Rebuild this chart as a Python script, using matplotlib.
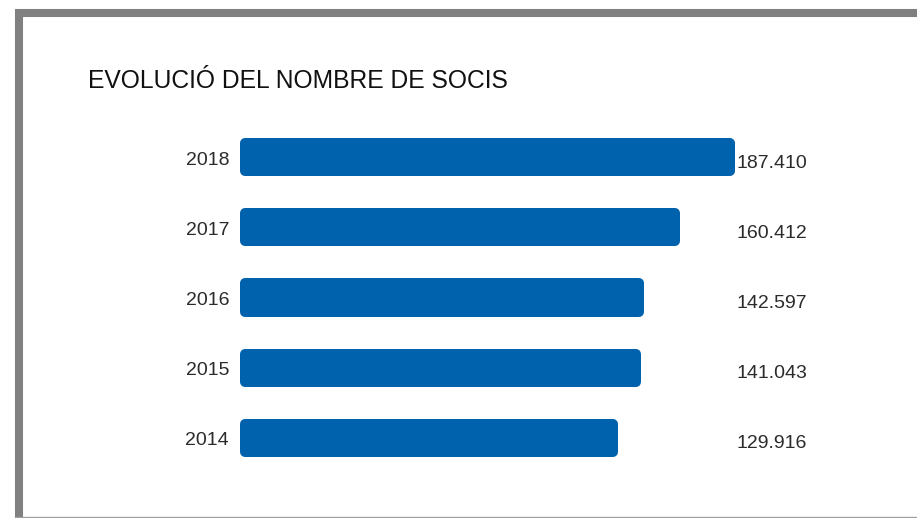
import matplotlib
matplotlib.use("Agg")
import matplotlib.pyplot as plt
from matplotlib.lines import Line2D
import numpy as np

years = ["2014", "2015", "2016", "2017", "2018"]
socis = [129916, 141043, 142597, 160412, 187410]
labels = ["129.916", "141.043", "142.597", "160.412", "187.410"]

bar_color = "#0062ad"
text_color = "#2b2b2b"
border_color = "#808080"

plt.rcParams['font.family'] = ['Liberation Sans', 'DejaVu Sans']

fig = plt.figure(figsize=(9.17, 5.18), dpi=100)
fig.patch.set_facecolor("white")

# frame: thick grey top and left, thin line at the bottom
fig.add_artist(Line2D([15/917, 1], [1 - 13/518] * 2, color=border_color, lw=5.8,
                      solid_capstyle="butt", transform=fig.transFigure))
fig.add_artist(Line2D([19/917] * 2, [0, 1 - 9/518], color=border_color, lw=5.8,
                      solid_capstyle="butt", transform=fig.transFigure))
fig.add_artist(Line2D([15/917, 1], [1.5/518] * 2, color="#a0a0a0", lw=1,
                      transform=fig.transFigure))

fig.text(88/917, 1 - 81/518, "EVOLUCIÓ DEL NOMBRE DE SOCIS", fontsize=17.7,
         color="#111111", va="center", ha="left")

# axis does not start at zero in the original
px = 1000 / 2.035          # data units per pixel along x
base = -50900
ax = fig.add_axes([240/917, 45/518, 622/917, 351/518])
y = np.arange(len(years))
# thick round-joined edge gives the rounded corners
ax.barh(y, np.array(socis) - base, left=base, height=0.4, color=bar_color,
        edgecolor=bar_color, linewidth=7.2, joinstyle="round")
ax.set_xlim(base - 5 * px, base - 5 * px + 622 * px)
ax.set_ylim(-0.5, 4.5)
ax.axis("off")

for yi, yr, lab in zip(y, years, labels):
    ax.annotate(yr, (0, yi), xycoords=("axes fraction", "data"),
                xytext=(-11, -3), textcoords="offset pixels",
                ha="right", va="center", fontsize=14, color=text_color)
    ax.annotate(lab, (1, yi), xycoords=("axes fraction", "data"),
                xytext=(-126, -6), textcoords="offset pixels",
                ha="left", va="center", fontsize=14, color=text_color)

fig.savefig("out.png", dpi=100, facecolor="white")
